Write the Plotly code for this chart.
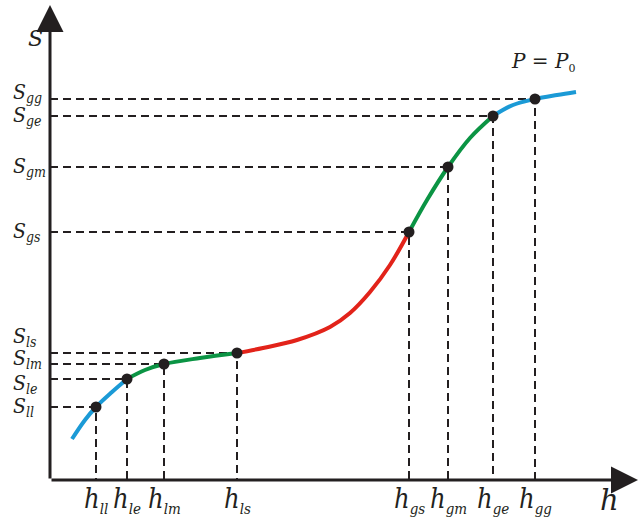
import plotly.graph_objects as go

# Key states on the curve (arbitrary units, origin at the axes crossing)
h_keys = ["ll", "le", "lm", "ls", "gs", "gm", "ge", "gg"]
h_vals = [46, 77, 114, 187, 359, 398, 443, 485]
s_vals = [73, 101, 116, 127, 248, 313, 364, 381]

# Curve segments
blue1_x = [22, 35, 46, 62, 77]
blue1_y = [41, 60, 73, 88, 101]
green1_x = [77, 95, 114, 150, 187]
green1_y = [101, 110, 116, 122, 127]
red_x = [187, 213, 247, 280, 300, 320, 340, 359]
red_y = [127, 132, 140, 153, 167, 188, 215, 248]
green2_x = [359, 377, 398, 420, 443]
green2_y = [248, 280, 313, 342, 364]
blue2_x = [443, 463, 485, 507, 526]
blue2_y = [364, 375, 381, 385, 388]

# label vertical nudges (px) so the S labels do not overlap
s_label_shift = [0, -5, 5, 16, 0, 0, 0, 6]

INK = "#231f20"
BLUE = "#1b9ad6"
GREEN = "#0b9444"
RED = "#e2231a"
FONT = "DejaVu Serif"
FONT_H = "DejaVu Serif Condensed"

fig = go.Figure()

# dashed guide lines
dx, dy = [], []
for h, s in zip(h_vals, s_vals):
    dx += [0, h, h, None]
    dy += [s, s, 0, None]
fig.add_trace(go.Scatter(x=dx, y=dy, mode="lines",
                         line=dict(color=INK, width=2, dash="8px,5px"),
                         hoverinfo="skip", showlegend=False))

for xs, ys, c in [(blue1_x, blue1_y, BLUE), (green1_x, green1_y, GREEN),
                  (red_x, red_y, RED), (green2_x, green2_y, GREEN),
                  (blue2_x, blue2_y, BLUE)]:
    fig.add_trace(go.Scatter(x=xs, y=ys, mode="lines",
                             line=dict(color=c, width=4, shape="spline"),
                             showlegend=False))

fig.add_trace(go.Scatter(x=h_vals, y=s_vals, mode="markers",
                         marker=dict(color=INK, size=11), showlegend=False))

ann = []
ann.append(dict(x=588, y=0, ax=0, ay=0, xref="x", yref="y", axref="x", ayref="y",
                text="", showarrow=True, arrowhead=2, arrowsize=1.8,
                arrowwidth=3, arrowcolor=INK))
ann.append(dict(x=0, y=475, ax=0, ay=0, xref="x", yref="y", axref="x", ayref="y",
                text="", showarrow=True, arrowhead=2, arrowsize=1.8,
                arrowwidth=3, arrowcolor=INK))

ann.append(dict(x=-15, y=442, xref="x", yref="y", text="<i>S</i>", showarrow=False,
                font=dict(family=FONT, size=22, color=INK)))
ann.append(dict(x=559, y=-20, xref="x", yref="y", text="<i>h</i>", showarrow=False,
                font=dict(family=FONT, size=29, color=INK)))
ann.append(dict(x=493, y=418, xref="x", yref="y",
                text="<i>P</i> = <i>P</i><sub><span style='font-size:11px'>0</span></sub>",
                showarrow=False,
                font=dict(family=FONT, size=20, color=INK)))

for k, h in zip(h_keys, h_vals):
    ann.append(dict(x=h, y=-20, xref="x", yref="y", xanchor="center",
                    text=f"<i>h</i><sub><i><span style='font-size:15px'>{k}</span></i></sub>",
                    showarrow=False,
                    font=dict(family=FONT_H, size=27, color=INK)))
for k, s, sh in zip(h_keys, s_vals, s_label_shift):
    ann.append(dict(x=-39, y=s, xref="x", yref="y", xanchor="left", yshift=sh,
                    text=f"<i>S</i><sub><i><span style='font-size:14px'>{k}</span></i></sub>",
                    showarrow=False,
                    font=dict(family=FONT_H, size=21, color=INK)))

fig.update_layout(
    width=638, height=528, margin=dict(l=0, r=0, t=0, b=0),
    plot_bgcolor="white", paper_bgcolor="white",
    xaxis=dict(visible=False, range=[-50, 588], fixedrange=True),
    yaxis=dict(visible=False, range=[-48, 480], fixedrange=True),
    annotations=ann,
)

fig.write_html("out.html")
